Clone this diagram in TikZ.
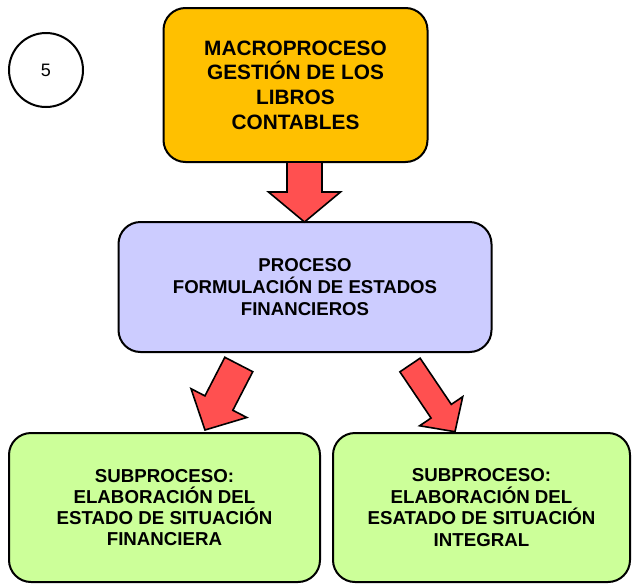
\documentclass[tikz,border=0pt]{standalone}
\usepackage{fontspec}
\setmainfont{Liberation Sans}
\usetikzlibrary{calc}
\definecolor{macrofill}{HTML}{FFC000}
\definecolor{procfill}{HTML}{CCCCFF}
\definecolor{subfill}{HTML}{CCFF99}
\definecolor{arrowfill}{HTML}{FF5050}
\newcommand{\blockarr}[5]{%
  \coordinate (ba-h) at ($(#2)!#5!(#1)$);
  \filldraw[arrowsty] ($(#1)!#3!90:(#2)$) -- ($(ba-h)!#3!90:(#2)$) -- ($(ba-h)!#4!90:(#2)$) -- (#2)
    -- ($(ba-h)!#4!-90:(#2)$) -- ($(ba-h)!#3!-90:(#2)$) -- ($(#1)!#3!-90:(#2)$) -- cycle;
}
\begin{document}
\begin{tikzpicture}[x=1pt,y=-1pt,
  box/.style={draw=black, line width=2pt, rounded corners=22pt, align=center, inner sep=0pt},
  arrowsty/.style={fill=arrowfill, draw=black, line width=1.6pt, line join=miter}]
\useasboundingbox (0,0) rectangle (632,584);
\node[circle, draw, line width=2pt, minimum size=74pt, inner sep=0pt, font=\fontsize{18}{20}\selectfont] (num) at (46,70) {5};
\node[box, fill=macrofill, minimum width=264pt, minimum height=154pt, font=\bfseries\fontsize{20.8}{24.6}\selectfont] (macro) at (295.5,85)
  {MACROPROCESO\\GESTIÓN DE LOS\\LIBROS\\CONTABLES};
\node[box, fill=procfill, minimum width=373pt, minimum height=130pt, font=\bfseries\fontsize{18.6}{22}\selectfont] (proc) at (305,287)
  {PROCESO\\FORMULACIÓN DE ESTADOS\\FINANCIEROS};
\node[box, fill=subfill, minimum width=311pt, minimum height=149pt, font=\bfseries\fontsize{18.7}{21}\selectfont] (subA) at (164.5,507.5)
  {SUBPROCESO:\\ELABORACIÓN DEL\\ESTADO DE SITUACIÓN\\FINANCIERA};
\node[box, fill=subfill, minimum width=297pt, minimum height=149pt, font=\bfseries\fontsize{18.7}{21.5}\selectfont] (subB) at (481.5,507.5)
  {\raisebox{-2pt}{\parbox{290pt}{\centering SUBPROCESO:\\ELABORACIÓN DEL\\ESATADO DE SITUACIÓN\\INTEGRAL}}};
% block arrows
\coordinate (a1t) at (304.5,162);
\coordinate (a1h) at (304.5,222);
\coordinate (a2t) at (238.8,364.5);
\coordinate (a2h) at (205,430);
\coordinate (a3t) at (410,365);
\coordinate (a3h) at (455,431.7);
\blockarr{a1t}{a1h}{17.5pt}{36pt}{30pt}
\blockarr{a2t}{a2h}{15.7pt}{31.4pt}{30.3pt}
\blockarr{a3t}{a3h}{12.2pt}{26pt}{24.7pt}
\end{tikzpicture}
\end{document}
